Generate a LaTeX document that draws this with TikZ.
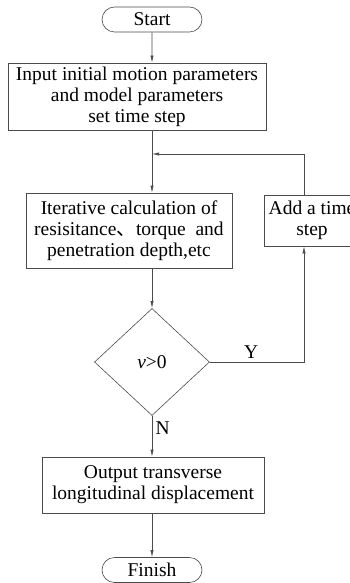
\documentclass[tikz,border=0pt]{standalone}
\usepackage{fontspec}
\setmainfont{Liberation Serif}
\newfontfamily\cjk{Noto Sans CJK SC}
\usepackage{tikz}
\usetikzlibrary{positioning, arrows.meta, shapes.geometric, shapes.misc}
\definecolor{linegray}{RGB}{75,75,75}
\tikzset{
  terminal/.style={
    rounded rectangle, draw=linegray, semithick, minimum width=100pt,
    minimum height=25pt, inner sep=0pt
  },
  decision/.style={
    diamond, draw=linegray, semithick, aspect=1.07, inner sep=0pt,
    minimum width=115pt, minimum height=107pt
  },
  flow/.style={draw=linegray, semithick, -{Latex[length=7pt,width=3.2pt]}},
}
\begin{document}
\begin{tikzpicture}[
  x=1pt, y=-1pt,
  font=\fontsize{19.5}{21}\selectfont,
  block/.style={draw=linegray, semithick, align=center, inner sep=0pt}
]
  \clip (0,0) rectangle (350,583);
  \node[terminal] (start) at (152,19.5) {Start};
  \node[block, minimum width=258pt, minimum height=67pt] (input) at (137,96.5) {Input initial motion parameters\\and model parameters\\set time step};
  \coordinate (join) at (152,154);
  \node[block, minimum width=206pt, minimum height=75pt] (calc) at (129,230.5) {Iterative calculation of\\resisitance{\cjk 、}torque\ \ and\\penetration depth,etc};
  \node[block, minimum width=96pt, minimum height=51pt] (addstep) at (312,220.5) {Add a time\\step};
  \node[decision] (check) at (152,362) {\textit{v}>0};
  \coordinate (loop) at (304,362);
  \node[block, minimum width=222pt, minimum height=56pt] (output) at (153,485) {Output transverse\\longitudinal displacement};
  \node[terminal] (finish) at (152,570) {Finish};
  \draw[flow] (start) -- (start |- input.north);
  \draw[flow] (start |- input.south) -- (start |- calc.north);
  \draw[flow] (loop |- addstep.north) |- (join);
  \draw[flow] (start |- calc.south) -- (check.north);
  \draw[flow] (check.east) -| (loop |- addstep.south) node[pos=0.22, above]{Y};
  \draw[flow] (check.south) -- (check.south |- output.north) node[pos=0.3, right]{N};
  \draw[flow] (start |- output.south) -- (finish.north);
\end{tikzpicture}
\end{document}
